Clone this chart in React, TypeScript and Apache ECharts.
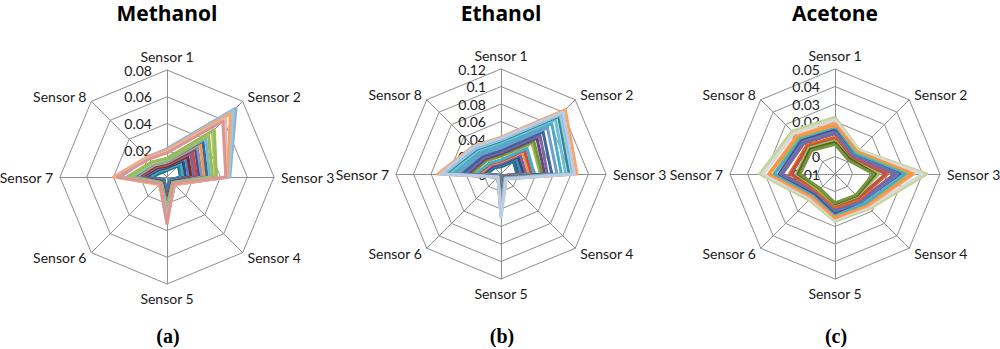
import React, { useEffect, useRef } from "react";
import * as echarts from "echarts";

// ---------- data ----------
const SENSORS = ["Sensor 1", "Sensor 2", "Sensor 3", "Sensor 4", "Sensor 5", "Sensor 6", "Sensor 7", "Sensor 8"];

const TITLES = ["Methanol", "Ethanol", "Acetone"];
const CAPTIONS = ["(a)", "(b)", "(c)"];

const METHANOL_TICKS = ["0", "0.02", "0.04", "0.06", "0.08"];
const ETHANOL_TICKS = ["0", "0.02", "0.04", "0.06", "0.08", "0.1", "0.12"];
const ACETONE_TICKS = ["-0.01", "0", "0.01", "0.02", "0.03", "0.04", "0.05"];

const METHANOL_RANGE = [0, 0.08];
const ETHANOL_RANGE = [0, 0.12];
const ACETONE_RANGE = [-0.01, 0.05];

// values per run, Sensor 1..8
const methanolRuns: number[][] = [
  [0.005, 0.012, 0.010, 0.003, 0.012, 0.003, 0.012, 0.005],
  [0.006, 0.013, 0.011, 0.003, 0.013, 0.003, 0.013, 0.006],
  [0.006, 0.015, 0.012, 0.004, 0.014, 0.004, 0.014, 0.007],
  [0.007, 0.017, 0.014, 0.004, 0.015, 0.004, 0.016, 0.008],
  [0.008, 0.020, 0.016, 0.004, 0.016, 0.004, 0.018, 0.009],
  [0.008, 0.022, 0.018, 0.005, 0.017, 0.005, 0.019, 0.010],
  [0.009, 0.025, 0.020, 0.005, 0.018, 0.005, 0.020, 0.011],
  [0.009, 0.027, 0.022, 0.005, 0.019, 0.005, 0.021, 0.011],
  [0.010, 0.030, 0.024, 0.005, 0.020, 0.005, 0.022, 0.012],
  [0.011, 0.032, 0.026, 0.006, 0.021, 0.006, 0.023, 0.013],
  [0.011, 0.035, 0.028, 0.006, 0.022, 0.006, 0.024, 0.013],
  [0.012, 0.038, 0.030, 0.006, 0.023, 0.006, 0.025, 0.014],
  [0.012, 0.041, 0.032, 0.006, 0.024, 0.006, 0.026, 0.014],
  [0.013, 0.044, 0.034, 0.006, 0.025, 0.006, 0.028, 0.015],
  [0.014, 0.048, 0.036, 0.007, 0.026, 0.007, 0.029, 0.015],
  [0.014, 0.050, 0.037, 0.007, 0.027, 0.007, 0.030, 0.016],
  [0.021, 0.072, 0.046, 0.008, 0.030, 0.007, 0.036, 0.021],
  [0.021, 0.073, 0.047, 0.008, 0.029, 0.007, 0.035, 0.020],
  [0.020, 0.070, 0.046, 0.008, 0.031, 0.007, 0.037, 0.020],
  [0.020, 0.067, 0.045, 0.008, 0.034, 0.008, 0.040, 0.021],
  [0.019, 0.062, 0.044, 0.007, 0.035, 0.007, 0.038, 0.020],
  [0.018, 0.059, 0.044, 0.007, 0.035, 0.007, 0.037, 0.019],
];
const methanolColors = [
  "#276A7C", "#31859C", "#4BACC6", "#2C4D75", "#4F81BD", "#772C2A", "#8064A2", "#C0504D",
  "#604A7B", "#729ACA", "#F79646", "#3A679C", "#6FBDD1", "#9BBB59", "#AFC97A", "#9BBB59",
  "#9AA6D6", "#95B3D7", "#93CDDD", "#FAA36A", "#E6B9B8", "#D99694",
];

const ethanolRuns: number[][] = [
  [0.008, 0.020, 0.018, 0.003, 0.012, 0.002, 0.016, 0.010],
  [0.009, 0.022, 0.020, 0.003, 0.013, 0.002, 0.017, 0.011],
  [0.010, 0.025, 0.023, 0.003, 0.015, 0.003, 0.019, 0.012],
  [0.011, 0.028, 0.026, 0.004, 0.016, 0.003, 0.021, 0.013],
  [0.012, 0.031, 0.029, 0.004, 0.017, 0.003, 0.023, 0.014],
  [0.014, 0.035, 0.032, 0.004, 0.019, 0.003, 0.025, 0.016],
  [0.015, 0.038, 0.035, 0.004, 0.020, 0.003, 0.027, 0.017],
  [0.016, 0.042, 0.038, 0.005, 0.022, 0.003, 0.029, 0.018],
  [0.020, 0.050, 0.045, 0.005, 0.025, 0.004, 0.034, 0.022],
  [0.021, 0.053, 0.047, 0.005, 0.026, 0.004, 0.035, 0.023],
  [0.023, 0.058, 0.050, 0.005, 0.028, 0.004, 0.038, 0.025],
  [0.025, 0.063, 0.053, 0.006, 0.030, 0.004, 0.041, 0.027],
  [0.027, 0.068, 0.058, 0.006, 0.032, 0.004, 0.045, 0.029],
  [0.030, 0.075, 0.064, 0.006, 0.035, 0.004, 0.050, 0.032],
  [0.033, 0.082, 0.069, 0.007, 0.038, 0.005, 0.055, 0.035],
  [0.036, 0.088, 0.074, 0.007, 0.041, 0.005, 0.060, 0.038],
  [0.038, 0.093, 0.078, 0.007, 0.043, 0.005, 0.064, 0.040],
  [0.039, 0.096, 0.081, 0.007, 0.045, 0.005, 0.066, 0.041],
  [0.040, 0.099, 0.083, 0.008, 0.048, 0.005, 0.068, 0.043],
  [0.042, 0.104, 0.087, 0.008, 0.044, 0.005, 0.072, 0.045],
  [0.041, 0.100, 0.084, 0.008, 0.050, 0.005, 0.069, 0.044],
];
const ethanolColors = [
  "#31859C", "#276A7C", "#4F81BD", "#2C4D75", "#8064A2", "#F79646", "#C0504D", "#4BACC6",
  "#9BBB59", "#77933C", "#604A7B", "#8064A2", "#3A679C", "#729ACA", "#4BACC6", "#6FBDD1",
  "#31859C", "#93CDDD", "#95B3D7", "#FAA36A", "#B9CDE5",
];

const acetoneRuns: number[][] = [
  [0.0225, 0.0095, 0.0425, 0.018, 0.017, 0.011, 0.033, 0.0247],
  [0.021, 0.009, 0.040, 0.017, 0.016, 0.010, 0.031, 0.023],
  [0.019, 0.008, 0.035, 0.016, 0.015, 0.009, 0.028, 0.021],
  [0.018, 0.008, 0.034, 0.015, 0.015, 0.008, 0.0275, 0.020],
  [0.016, 0.007, 0.031, 0.014, 0.013, 0.007, 0.025, 0.019],
  [0.016, 0.006, 0.030, 0.014, 0.013, 0.007, 0.0245, 0.018],
  [0.015, 0.005, 0.027, 0.012, 0.012, 0.006, 0.022, 0.017],
  [0.014, 0.005, 0.026, 0.012, 0.011, 0.005, 0.021, 0.016],
  [0.013, 0.004, 0.024, 0.011, 0.010, 0.005, 0.020, 0.015],
  [0.011, 0.003, 0.020, 0.010, 0.009, 0.004, 0.016, 0.013],
  [0.010, 0.003, 0.019, 0.009, 0.008, 0.003, 0.015, 0.012],
  [0.009, 0.002, 0.015, 0.008, 0.0075, 0.003, 0.012, 0.011],
  [0.008, 0.002, 0.013, 0.0075, 0.007, 0.002, 0.011, 0.010],
  [0.007, 0.001, 0.012, 0.007, 0.0065, 0.002, 0.010, 0.009],
];
const acetoneColors = [
  "#C3D69B", "#D9D9D9", "#FAA36A", "#F79646", "#9BBB59", "#4BACC6", "#604A7B", "#4F81BD",
  "#8064A2", "#E46C0A", "#C0504D", "#9BBB59", "#4F6228", "#77933C",
];

// ---------- helpers ----------
// ECharts lays indicators counter-clockwise; the original runs clockwise.
const ORDER = [0, 7, 6, 5, 4, 3, 2, 1];
const reorder = <T,>(arr: T[]): T[] => ORDER.map((i) => arr[i]);

const FONT = "Lato, 'Open Sans', sans-serif";
const GRID = "#8E8E8E";

function makeRadar(center: number[], radius: number, range: number[], ticks: string[]) {
  const split = ticks.length - 1;
  const step = (range[1] - range[0]) / split;
  return {
    center,
    radius,
    startAngle: 90,
    shape: "polygon",
    splitNumber: split,
    indicator: reorder(SENSORS).map((name, i) => ({
      name,
      min: range[0],
      max: range[1],
      ...(i === 0 ? { axisLabel: { show: true } } : {}),
    })),
    axisName: { color: "#1a1a1a", fontSize: 14, fontFamily: FONT },
    nameGap: 7,
    splitArea: { show: false },
    splitLine: { lineStyle: { color: GRID, width: 1 } },
    axisLine: { lineStyle: { color: GRID, width: 1 } },
    axisTick: { show: false },
    axisLabel: {
      show: false,
      color: "#1a1a1a",
      fontSize: 14,
      fontFamily: FONT,
      margin: 15,
      formatter: (v: number) => ticks[Math.round((v - range[0]) / step)] ?? "",
    },
  };
}

function makeSeries(radarIndex: number, runs: number[][], colors: string[]) {
  return {
    type: "radar",
    radarIndex,
    symbol: "none",
    silent: true,
    data: runs.map((r, i) => ({
      value: reorder(r),
      lineStyle: { color: colors[i % colors.length], width: 3 },
      itemStyle: { color: colors[i % colors.length] },
    })),
  };
}

const CENTERS = [[167, 177], [501, 174], [835, 174]];
const RADII = [107, 105, 105];

export default function App() {
  const ref = useRef<HTMLDivElement>(null);
  useEffect(() => {
    if (!ref.current) return;
    const chart = echarts.init(ref.current, undefined, { renderer: "svg" });
    const graphics: any[] = [];
    TITLES.forEach((t, i) => {
      graphics.push({
        type: "text",
        x: CENTERS[i][0],
        y: 2,
        style: {
          text: t,
          fill: "#000",
          font: "bold 21px 'Open Sans', sans-serif",
          textAlign: "center",
          textVerticalAlign: "top",
        },
      });
      graphics.push({
        type: "text",
        x: CENTERS[i][0] + 1,
        y: 336,
        style: {
          text: CAPTIONS[i],
          fill: "#000",
          font: "bold 20px 'Liberation Serif', 'Times New Roman', serif",
          textAlign: "center",
          textVerticalAlign: "middle",
        },
      });
    });
    chart.setOption({
      animation: false,
      backgroundColor: "#fff",
      radar: [
        makeRadar(CENTERS[0], RADII[0], METHANOL_RANGE, METHANOL_TICKS),
        makeRadar(CENTERS[1], RADII[1], ETHANOL_RANGE, ETHANOL_TICKS),
        makeRadar(CENTERS[2], RADII[2], ACETONE_RANGE, ACETONE_TICKS),
      ],
      series: [
        makeSeries(0, methanolRuns, methanolColors),
        makeSeries(1, ethanolRuns, ethanolColors),
        makeSeries(2, acetoneRuns, acetoneColors),
      ],
      graphic: graphics,
    });
    return () => chart.dispose();
  }, []);
  return (
    <div
      ref={ref}
      style={{ position: "fixed", left: 0, top: 0, width: 1000, height: 349, background: "#fff" }}
    />
  );
}
